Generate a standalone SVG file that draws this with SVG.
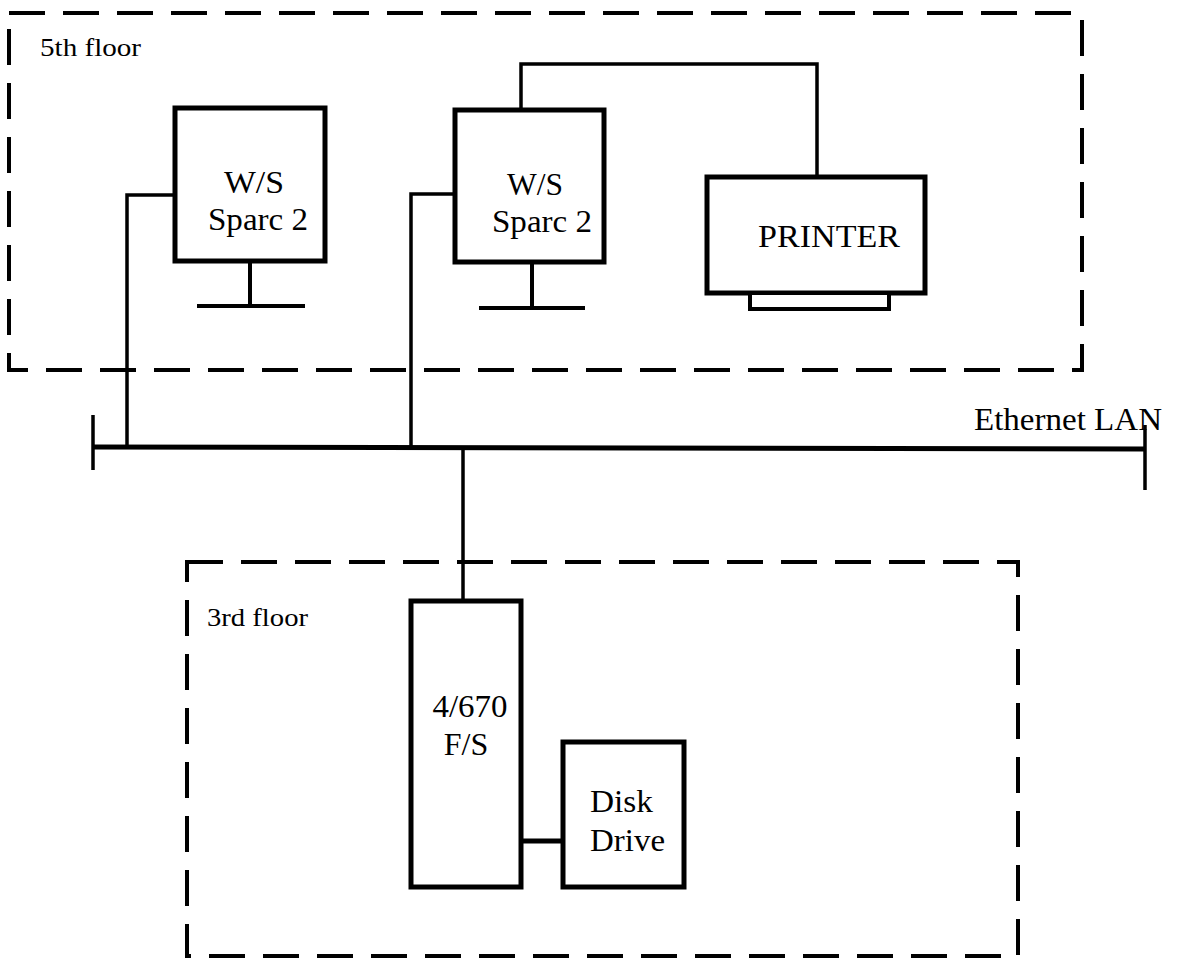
<svg xmlns="http://www.w3.org/2000/svg" width="1182" height="962" viewBox="0 0 1182 962">
<style>
.zone{fill:none;stroke:#000;stroke-width:4;stroke-dasharray:36 18}
.box{fill:#fff;stroke:#000;stroke-width:5}
.wire{fill:none;stroke:#000;stroke-width:3.5}
.bus{fill:none;stroke:#000;stroke-width:5}
text{font-family:"Liberation Serif","Times New Roman",serif;fill:#000}
.lbl{font-size:32px}
.zl{font-size:26px}
</style>
<rect width="1182" height="962" fill="#fff"/>
<g id="floor5">
<rect class="zone" x="9" y="13" width="1073" height="357"/>
<text class="zl" x="40" y="56" textLength="101" lengthAdjust="spacingAndGlyphs">5th floor</text>
</g>
<g id="floor3">
<rect class="zone" x="187" y="562" width="831" height="394"/>
<text class="zl" x="207" y="626" textLength="101" lengthAdjust="spacingAndGlyphs">3rd floor</text>
</g>
<g id="connectors">
<path class="bus" d="M93 447 L1145 449"/>
<path class="wire" d="M93 415 V470 M1145 425 V490"/>
<path class="wire" d="M127 447 V195 H175"/>
<path class="wire" d="M411 447 V194 H455"/>
<path class="wire" d="M521 110 V64 H817 V177"/>
<path class="wire" d="M463 448 V601"/>
<path class="bus" d="M521 841 H563"/>
</g>
<g id="ethernet-label">
<text class="lbl" x="974" y="430" textLength="188" lengthAdjust="spacingAndGlyphs">Ethernet LAN</text>
</g>
<g id="ws1">
<rect class="box" x="175" y="108" width="150" height="153"/>
<path class="wire" d="M250 261 V306 M197 306 H305" style="stroke-width:4"/>
<text class="lbl" x="254" y="193" text-anchor="middle" textLength="60" lengthAdjust="spacingAndGlyphs">W/S</text>
<text class="lbl" x="258" y="230" text-anchor="middle" textLength="100" lengthAdjust="spacingAndGlyphs">Sparc 2</text>
</g>
<g id="ws2">
<rect class="box" x="455" y="110" width="149" height="152"/>
<path class="wire" d="M532 262 V308 M479 308 H585" style="stroke-width:4"/>
<text class="lbl" x="535" y="195" text-anchor="middle" textLength="56" lengthAdjust="spacingAndGlyphs">W/S</text>
<text class="lbl" x="542" y="232" text-anchor="middle" textLength="100" lengthAdjust="spacingAndGlyphs">Sparc 2</text>
</g>
<g id="printer">
<rect class="box" x="707" y="177" width="218" height="116"/>
<rect x="750" y="293" width="139" height="16" fill="#fff" stroke="#000" stroke-width="4"/>
<text class="lbl" x="829" y="247" text-anchor="middle" textLength="142" lengthAdjust="spacingAndGlyphs">PRINTER</text>
</g>
<g id="server">
<rect class="box" x="411" y="601" width="110" height="286"/>
<text class="lbl" x="470" y="717" text-anchor="middle" textLength="75" lengthAdjust="spacingAndGlyphs">4/670</text>
<text class="lbl" x="466" y="755" text-anchor="middle">F/S</text>
</g>
<g id="disk">
<rect class="box" x="563" y="742" width="121" height="145"/>
<text class="lbl" x="590" y="812" textLength="63" lengthAdjust="spacingAndGlyphs">Disk</text>
<text class="lbl" x="590" y="851" textLength="75" lengthAdjust="spacingAndGlyphs">Drive</text>
</g>
</svg>
